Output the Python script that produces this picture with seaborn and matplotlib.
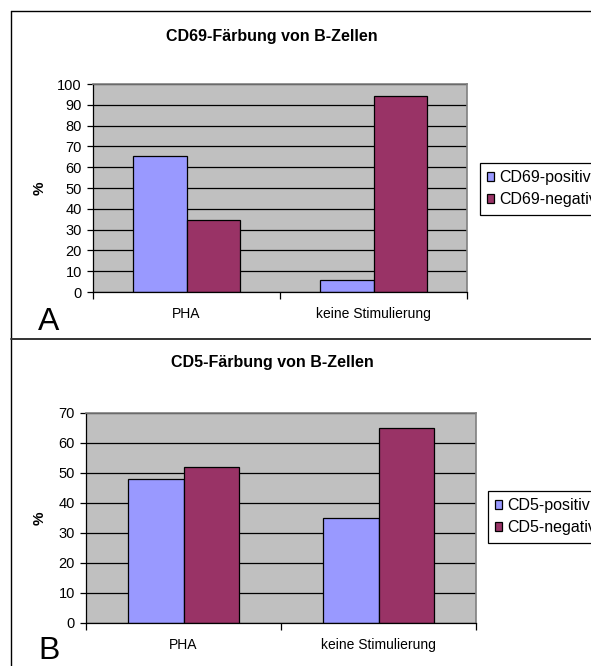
import matplotlib
matplotlib.use("Agg")
import matplotlib.pyplot as plt
from matplotlib.lines import Line2D
import numpy as np
import pandas as pd
import seaborn as sns

# --- Data --------------------------------------------------------------------
stimulation = ["PHA", "keine Stimulierung"]

cd69_labels   = ["CD69-positiv", "CD69-negativ"]
cd69_positive = [65.6, 5.9]
cd69_negative = [34.4, 94.1]

cd5_labels    = ["CD5-positiv", "CD5-negativ"]
cd5_positive  = [48.0, 35.0]
cd5_negative  = [52.0, 65.0]

titles = ["CD69-Färbung von B-Zellen", "CD5-Färbung von B-Zellen"]
panel_letters = ["A", "B"]

# --- Style -------------------------------------------------------------------
sns.set_style("white")
plt.rcParams["font.family"] = ["Liberation Sans", "DejaVu Sans"]
plt.rcParams["text.color"] = "black"
plt.rcParams["xtick.color"] = "black"
plt.rcParams["ytick.color"] = "black"

COL_POS = "#9999FF"
COL_NEG = "#993366"
BG      = "#C0C0C0"

W, H = 591, 666
fig = plt.figure(figsize=(W / 100, H / 100), dpi=100)


def px_axes(left, top, right, bottom):
    return [left / W, 1 - bottom / H, (right - left) / W, (bottom - top) / H]


def fx(x):
    return x / W


def fy(y):
    return 1 - y / H


def make_df(labels, pos, neg):
    return pd.DataFrame({
        "Stimulation": stimulation * 2,
        "Prozent": pos + neg,
        "Färbung": [labels[0]] * 2 + [labels[1]] * 2,
    })


def draw_panel(rect, df, labels, ymax, title, title_y, pct_y, letter, letter_y, leg_box):
    ax = fig.add_axes(px_axes(*rect))
    sns.barplot(
        data=df, x="Stimulation", y="Prozent", hue="Färbung",
        hue_order=labels, order=stimulation,
        palette=[COL_POS, COL_NEG], saturation=1, width=0.57, gap=0,
        edgecolor="black", linewidth=0.9, errorbar=None, ax=ax,
    )
    ax.set_facecolor(BG)
    ax.set_xlim(-0.5, 1.5)
    ax.set_ylim(0, ymax)
    ax.set_yticks(np.arange(0, ymax + 1, 10))
    ax.yaxis.grid(True, color="black", linewidth=0.9)
    ax.set_axisbelow(True)
    ax.tick_params(axis="y", length=4, width=0.9, direction="out",
                   pad=4, labelsize=10.5, left=True)

    # category separators as major ticks, names as minor ticks
    ax.set_xticks([-0.5, 0.5, 1.5])
    ax.set_xticklabels([])
    ax.set_xticks([0, 1], minor=True)
    ax.set_xticklabels(stimulation, minor=True)
    ax.tick_params(axis="x", which="major", length=5, width=0.9,
                   direction="out", bottom=True)
    ax.tick_params(axis="x", which="minor", length=0, pad=11, labelsize=10)

    ax.set_xlabel("")
    ax.set_ylabel("")
    for side in ["left", "bottom"]:
        ax.spines[side].set_color("black")
        ax.spines[side].set_linewidth(0.9)
    for side in ["top", "right"]:
        ax.spines[side].set_color("#808080")
        ax.spines[side].set_linewidth(1.2)

    fig.text(fx(272), fy(title_y), title, ha="center", va="center",
             fontsize=11.5, fontweight="bold")
    fig.text(fx(40), fy(pct_y), "%", ha="center", va="center",
             rotation=90, fontsize=11, fontweight="bold")
    fig.text(fx(38), fy(letter_y), letter, ha="left", va="baseline",
             fontsize=23)

    handles, leg_labels = ax.get_legend_handles_labels()
    ax.legend(
        handles, leg_labels, loc="upper left",
        bbox_to_anchor=(fx(leg_box[0]), fy(leg_box[1])),
        bbox_transform=fig.transFigure,
        frameon=True, fancybox=False, framealpha=1, edgecolor="black",
        fontsize=11.5, handlelength=0.45, handleheight=0.45,
        handletextpad=0.3, labelspacing=0.45, borderpad=0.45,
        borderaxespad=0,
    )
    ax.get_legend().get_frame().set_linewidth(0.9)
    return ax


# Panel A
draw_panel((93, 84, 467, 292), make_df(cd69_labels, cd69_positive, cd69_negative),
           cd69_labels, 100, titles[0], 36, 188, panel_letters[0], 330, (480, 163))

# Panel B
draw_panel((86, 413, 476, 623), make_df(cd5_labels, cd5_positive, cd5_negative),
           cd5_labels, 70, titles[1], 362, 518, panel_letters[1], 659, (488, 491))

# panel frames
fig.add_artist(Line2D([fx(11), fx(11)], [fy(11), 0], color="black", linewidth=1.0))
fig.add_artist(Line2D([fx(11), 1], [fy(11), fy(11)], color="black", linewidth=1.0))
fig.add_artist(Line2D([fx(11), 1], [fy(339), fy(339)], color="#333333", linewidth=1.4))

fig.savefig("out.png", dpi=100)
